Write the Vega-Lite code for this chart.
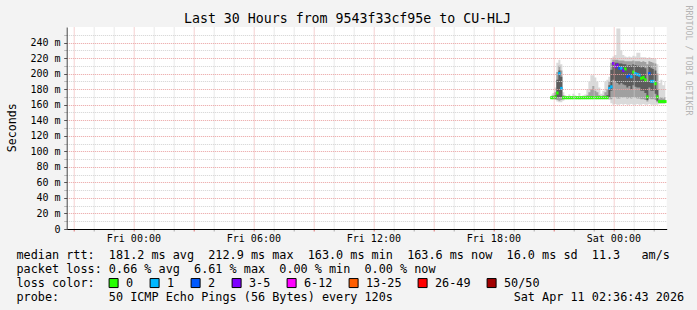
{
  "$schema": "https://vega.github.io/schema/vega-lite/v6.json",
  "width": 600,
  "height": 202,
  "autosize": {"type": "none"},
  "padding": {"left": 66.7, "top": 27, "right": 30.3, "bottom": 81},
  "background": "#f3f3f3",
  "view": {"fill": "white", "stroke": null},
  "title": {
    "text": "Last 30 Hours from 9543f33cf95e to CU-HLJ",
    "font": "DejaVu Sans Mono",
    "fontSize": 13.25,
    "fontWeight": "normal",
    "color": "#000000",
    "anchor": "middle",
    "frame": "group",
    "dx": -19.2,
    "baseline": "alphabetic",
    "offset": -31
  },
  "data": {
    "values": [
      {"t": "2026-04-10T20:54:00Z", "lo": 167, "p10": 168, "p25": 168.5, "med": 169, "p75": 170, "p90": 171, "hi": 173, "loss": "0"},
      {"t": "2026-04-10T21:00:00Z", "lo": 167, "p10": 168, "p25": 168.5, "med": 169, "p75": 170, "p90": 172, "hi": 175, "loss": "0"},
      {"t": "2026-04-10T21:06:00Z", "lo": 166, "p10": 167, "p25": 168, "med": 170, "p75": 172, "p90": 176, "hi": 182, "loss": "0"},
      {"t": "2026-04-10T21:12:00Z", "lo": 164, "p10": 166, "p25": 169, "med": 175, "p75": 192, "p90": 202, "hi": 214, "loss": "0"},
      {"t": "2026-04-10T21:18:00Z", "lo": 163, "p10": 165, "p25": 170, "med": 200, "p75": 204, "p90": 210, "hi": 218, "loss": "1"},
      {"t": "2026-04-10T21:24:00Z", "lo": 163, "p10": 166, "p25": 170, "med": 181, "p75": 196, "p90": 204, "hi": 212, "loss": "1"},
      {"t": "2026-04-10T21:30:00Z", "lo": 165, "p10": 167, "p25": 168, "med": 169, "p75": 170, "p90": 172, "hi": 176, "loss": "0"},
      {"t": "2026-04-10T21:36:00Z", "lo": 167, "p10": 168, "p25": 168.5, "med": 169, "p75": 169.5, "p90": 170, "hi": 172, "loss": "0"},
      {"t": "2026-04-10T21:42:00Z", "lo": 167, "p10": 168, "p25": 168.5, "med": 169, "p75": 169.5, "p90": 170, "hi": 171, "loss": "0"},
      {"t": "2026-04-10T21:48:00Z", "lo": 167, "p10": 168, "p25": 168.5, "med": 169, "p75": 169.5, "p90": 170, "hi": 173, "loss": "0"},
      {"t": "2026-04-10T21:54:00Z", "lo": 167, "p10": 168, "p25": 168.5, "med": 169, "p75": 169.5, "p90": 170, "hi": 171, "loss": "0"},
      {"t": "2026-04-10T22:00:00Z", "lo": 167, "p10": 168, "p25": 168.5, "med": 169, "p75": 169.5, "p90": 170, "hi": 174, "loss": "0"},
      {"t": "2026-04-10T22:06:00Z", "lo": 167, "p10": 168, "p25": 168.5, "med": 169, "p75": 169.5, "p90": 170, "hi": 172, "loss": "0"},
      {"t": "2026-04-10T22:12:00Z", "lo": 167, "p10": 168, "p25": 168.5, "med": 169, "p75": 169.5, "p90": 170, "hi": 171, "loss": "0"},
      {"t": "2026-04-10T22:18:00Z", "lo": 167, "p10": 168, "p25": 168.5, "med": 169, "p75": 169.5, "p90": 170, "hi": 175, "loss": "0"},
      {"t": "2026-04-10T22:24:00Z", "lo": 167, "p10": 168, "p25": 168.5, "med": 169, "p75": 169.5, "p90": 170, "hi": 171, "loss": "0"},
      {"t": "2026-04-10T22:30:00Z", "lo": 167, "p10": 168, "p25": 168.5, "med": 169, "p75": 169.5, "p90": 170, "hi": 172, "loss": "0"},
      {"t": "2026-04-10T22:36:00Z", "lo": 167, "p10": 168, "p25": 168.5, "med": 169, "p75": 169.5, "p90": 170, "hi": 173, "loss": "0"},
      {"t": "2026-04-10T22:42:00Z", "lo": 167, "p10": 168, "p25": 168.5, "med": 169, "p75": 169.5, "p90": 172, "hi": 180, "loss": "0"},
      {"t": "2026-04-10T22:48:00Z", "lo": 167, "p10": 168, "p25": 168.5, "med": 169, "p75": 170, "p90": 176, "hi": 190, "loss": "0"},
      {"t": "2026-04-10T22:54:00Z", "lo": 167, "p10": 168, "p25": 168.5, "med": 169, "p75": 170, "p90": 180, "hi": 198, "loss": "0"},
      {"t": "2026-04-10T23:00:00Z", "lo": 167, "p10": 168, "p25": 168.5, "med": 169, "p75": 171, "p90": 184, "hi": 198, "loss": "0"},
      {"t": "2026-04-10T23:06:00Z", "lo": 167, "p10": 168, "p25": 168.5, "med": 169, "p75": 170, "p90": 178, "hi": 195, "loss": "0"},
      {"t": "2026-04-10T23:12:00Z", "lo": 167, "p10": 168, "p25": 168.5, "med": 169, "p75": 170, "p90": 176, "hi": 190, "loss": "0"},
      {"t": "2026-04-10T23:18:00Z", "lo": 167, "p10": 168, "p25": 168.5, "med": 169, "p75": 169.5, "p90": 172, "hi": 182, "loss": "0"},
      {"t": "2026-04-10T23:24:00Z", "lo": 167, "p10": 168, "p25": 168.5, "med": 169, "p75": 169.5, "p90": 170, "hi": 174, "loss": "0"},
      {"t": "2026-04-10T23:30:00Z", "lo": 167, "p10": 168, "p25": 168.5, "med": 169, "p75": 169.5, "p90": 172, "hi": 178, "loss": "0"},
      {"t": "2026-04-10T23:36:00Z", "lo": 167, "p10": 168, "p25": 168.5, "med": 169, "p75": 170, "p90": 176, "hi": 190, "loss": "0"},
      {"t": "2026-04-10T23:42:00Z", "lo": 167, "p10": 168, "p25": 168.5, "med": 169, "p75": 172, "p90": 180, "hi": 192, "loss": "0"},
      {"t": "2026-04-10T23:48:00Z", "lo": 166, "p10": 168, "p25": 170, "med": 181, "p75": 185, "p90": 190, "hi": 196, "loss": "1"},
      {"t": "2026-04-10T23:54:00Z", "lo": 162, "p10": 167, "p25": 178, "med": 183, "p75": 205, "p90": 214, "hi": 220, "loss": "1"},
      {"t": "2026-04-11T00:00:00Z", "lo": 160, "p10": 170, "p25": 192, "med": 213, "p75": 215, "p90": 218, "hi": 222, "loss": "3-5"},
      {"t": "2026-04-11T00:06:00Z", "lo": 161, "p10": 170, "p25": 190, "med": 209, "p75": 214, "p90": 218, "hi": 224, "loss": "3-5"},
      {"t": "2026-04-11T00:12:00Z", "lo": 160, "p10": 168, "p25": 188, "med": 211, "p75": 214, "p90": 218, "hi": 258, "loss": "3-5"},
      {"t": "2026-04-11T00:18:00Z", "lo": 160, "p10": 168, "p25": 186, "med": 207, "p75": 213, "p90": 217, "hi": 258, "loss": "2"},
      {"t": "2026-04-11T00:24:00Z", "lo": 161, "p10": 170, "p25": 188, "med": 207, "p75": 213, "p90": 217, "hi": 230, "loss": "1"},
      {"t": "2026-04-11T00:30:00Z", "lo": 160, "p10": 169, "p25": 186, "med": 204, "p75": 212, "p90": 217, "hi": 224, "loss": "3-5"},
      {"t": "2026-04-11T00:36:00Z", "lo": 161, "p10": 170, "p25": 185, "med": 206, "p75": 212, "p90": 216, "hi": 222, "loss": "0"},
      {"t": "2026-04-11T00:42:00Z", "lo": 160, "p10": 168, "p25": 182, "med": 196, "p75": 210, "p90": 216, "hi": 221, "loss": "2"},
      {"t": "2026-04-11T00:48:00Z", "lo": 160, "p10": 169, "p25": 184, "med": 198, "p75": 211, "p90": 216, "hi": 222, "loss": "2"},
      {"t": "2026-04-11T00:54:00Z", "lo": 161, "p10": 168, "p25": 180, "med": 196, "p75": 210, "p90": 216, "hi": 221, "loss": "1"},
      {"t": "2026-04-11T01:00:00Z", "lo": 160, "p10": 170, "p25": 185, "med": 202, "p75": 212, "p90": 217, "hi": 223, "loss": "0"},
      {"t": "2026-04-11T01:06:00Z", "lo": 160, "p10": 169, "p25": 183, "med": 200, "p75": 211, "p90": 216, "hi": 222, "loss": "1"},
      {"t": "2026-04-11T01:12:00Z", "lo": 161, "p10": 168, "p25": 182, "med": 199, "p75": 210, "p90": 216, "hi": 227, "loss": "1"},
      {"t": "2026-04-11T01:18:00Z", "lo": 160, "p10": 168, "p25": 182, "med": 198, "p75": 210, "p90": 216, "hi": 227, "loss": "1"},
      {"t": "2026-04-11T01:24:00Z", "lo": 160, "p10": 167, "p25": 178, "med": 194, "p75": 208, "p90": 215, "hi": 221, "loss": "0"},
      {"t": "2026-04-11T01:30:00Z", "lo": 161, "p10": 167, "p25": 178, "med": 195, "p75": 209, "p90": 216, "hi": 221, "loss": "0"},
      {"t": "2026-04-11T01:36:00Z", "lo": 160, "p10": 166, "p25": 175, "med": 192, "p75": 207, "p90": 215, "hi": 221, "loss": "0"},
      {"t": "2026-04-11T01:42:00Z", "lo": 160, "p10": 164, "p25": 166, "med": 170, "p75": 190, "p90": 212, "hi": 220, "loss": "0"},
      {"t": "2026-04-11T01:48:00Z", "lo": 161, "p10": 168, "p25": 182, "med": 200, "p75": 210, "p90": 216, "hi": 221, "loss": "2"},
      {"t": "2026-04-11T01:54:00Z", "lo": 160, "p10": 167, "p25": 178, "med": 190, "p75": 207, "p90": 215, "hi": 220, "loss": "1"},
      {"t": "2026-04-11T02:00:00Z", "lo": 160, "p10": 167, "p25": 178, "med": 190, "p75": 206, "p90": 214, "hi": 220, "loss": "1"},
      {"t": "2026-04-11T02:06:00Z", "lo": 160, "p10": 166, "p25": 174, "med": 187, "p75": 204, "p90": 213, "hi": 219, "loss": "0"},
      {"t": "2026-04-11T02:12:00Z", "lo": 160, "p10": 163, "p25": 165, "med": 170, "p75": 180, "p90": 200, "hi": 212, "loss": "0"},
      {"t": "2026-04-11T02:18:00Z", "lo": 161, "p10": 162.5, "p25": 163, "med": 164, "p75": 165, "p90": 168, "hi": 188, "loss": "0"},
      {"t": "2026-04-11T02:24:00Z", "lo": 161, "p10": 162.5, "p25": 163, "med": 164, "p75": 165, "p90": 170, "hi": 192, "loss": "0"},
      {"t": "2026-04-11T02:30:00Z", "lo": 161, "p10": 162.5, "p25": 163, "med": 164, "p75": 165, "p90": 168, "hi": 185, "loss": "0"},
      {"t": "2026-04-11T02:36:00Z", "lo": 161, "p10": 162.5, "p25": 163, "med": 164, "p75": 165, "p90": 170, "hi": 190, "loss": "0"}
    ]
  },
  "encoding": {
    "x": {
      "field": "t",
      "type": "temporal",
      "scale": {
        "type": "utc",
        "domain": [
          {"year": 2026, "month": 4, "date": 9, "hours": 20, "minutes": 40, "utc": true},
          {"year": 2026, "month": 4, "date": 11, "hours": 2, "minutes": 40, "utc": true}
        ]
      },
      "axis": {
        "zindex": 1,
        "values": [
          {"year": 2026, "month": 4, "date": 9, "hours": 21, "utc": true},
          {"year": 2026, "month": 4, "date": 9, "hours": 22, "utc": true},
          {"year": 2026, "month": 4, "date": 9, "hours": 23, "utc": true},
          {"year": 2026, "month": 4, "date": 10, "hours": 0, "utc": true},
          {"year": 2026, "month": 4, "date": 10, "hours": 1, "utc": true},
          {"year": 2026, "month": 4, "date": 10, "hours": 2, "utc": true},
          {"year": 2026, "month": 4, "date": 10, "hours": 3, "utc": true},
          {"year": 2026, "month": 4, "date": 10, "hours": 4, "utc": true},
          {"year": 2026, "month": 4, "date": 10, "hours": 5, "utc": true},
          {"year": 2026, "month": 4, "date": 10, "hours": 6, "utc": true},
          {"year": 2026, "month": 4, "date": 10, "hours": 7, "utc": true},
          {"year": 2026, "month": 4, "date": 10, "hours": 8, "utc": true},
          {"year": 2026, "month": 4, "date": 10, "hours": 9, "utc": true},
          {"year": 2026, "month": 4, "date": 10, "hours": 10, "utc": true},
          {"year": 2026, "month": 4, "date": 10, "hours": 11, "utc": true},
          {"year": 2026, "month": 4, "date": 10, "hours": 12, "utc": true},
          {"year": 2026, "month": 4, "date": 10, "hours": 13, "utc": true},
          {"year": 2026, "month": 4, "date": 10, "hours": 14, "utc": true},
          {"year": 2026, "month": 4, "date": 10, "hours": 15, "utc": true},
          {"year": 2026, "month": 4, "date": 10, "hours": 16, "utc": true},
          {"year": 2026, "month": 4, "date": 10, "hours": 17, "utc": true},
          {"year": 2026, "month": 4, "date": 10, "hours": 18, "utc": true},
          {"year": 2026, "month": 4, "date": 10, "hours": 19, "utc": true},
          {"year": 2026, "month": 4, "date": 10, "hours": 20, "utc": true},
          {"year": 2026, "month": 4, "date": 10, "hours": 21, "utc": true},
          {"year": 2026, "month": 4, "date": 10, "hours": 22, "utc": true},
          {"year": 2026, "month": 4, "date": 10, "hours": 23, "utc": true},
          {"year": 2026, "month": 4, "date": 11, "hours": 0, "utc": true},
          {"year": 2026, "month": 4, "date": 11, "hours": 1, "utc": true},
          {"year": 2026, "month": 4, "date": 11, "hours": 2, "utc": true}
        ],
        "labelExpr": "utchours(datum.value) % 6 == 0 ? utcFormat(datum.value, '%a %H:%M') : ''",
        "labelOverlap": false,
        "labelFlush": false,
        "labelAngle": 0,
        "labelFont": "DejaVu Sans Mono",
        "labelFontSize": 10,
        "labelColor": "#000000",
        "labelPadding": 2.4,
        "tickSize": 2,
        "tickColor": {"condition": {"test": "utchours(datum.value) % 3 == 0", "value": "#e07070"}, "value": "#aaaaaa"},
        "grid": true,
        "gridColor": {"condition": {"test": "utchours(datum.value) % 3 == 0", "value": "#eaa0a0"}, "value": "#d2d2d2"},
        "gridDash": [1, 1],
        "gridWidth": 1,
        "domainColor": "#000000",
        "domainWidth": 1,
        "title": [
          "median\u00a0rtt:\u00a0\u00a0181.2\u00a0ms\u00a0avg\u00a0\u00a0212.9\u00a0ms\u00a0max\u00a0\u00a0163.0\u00a0ms\u00a0min\u00a0\u00a0163.6\u00a0ms\u00a0now\u00a0\u00a016.0\u00a0ms\u00a0sd\u00a0\u00a011.3\u00a0\u00a0\u00a0am/s",
          "packet\u00a0loss:\u00a00.66\u00a0%\u00a0avg\u00a0\u00a06.61\u00a0%\u00a0max\u00a0\u00a00.00\u00a0%\u00a0min\u00a0\u00a00.00\u00a0%\u00a0now",
          "loss\u00a0color:",
          "probe:\u00a0\u00a0\u00a0\u00a0\u00a0\u00a0\u00a050\u00a0ICMP\u00a0Echo\u00a0Pings\u00a0(56\u00a0Bytes)\u00a0every\u00a0120s\u00a0\u00a0\u00a0\u00a0\u00a0\u00a0\u00a0\u00a0\u00a0\u00a0\u00a0\u00a0\u00a0\u00a0\u00a0\u00a0\u00a0Sat\u00a0Apr\u00a011\u00a002:36:43\u00a02026"
        ],
        "titleX": -50.7,
        "titleY": 29,
        "titleAlign": "left",
        "titleAnchor": "start",
        "titleBaseline": "alphabetic",
        "titleFont": "DejaVu Sans Mono",
        "titleFontSize": 11.8,
        "titleFontWeight": "normal",
        "titleColor": "#000000",
        "titleLineHeight": 14
      }
    }
  },
  "layer": [
    {
      "mark": {"type": "area", "interpolate": "step", "color": "#dadada", "opacity": 1},
      "encoding": {
        "y": {
          "field": "lo",
          "type": "quantitative",
          "scale": {"domain": [0, 260], "nice": false, "zero": true},
          "axis": {
            "zindex": 1,
            "title": "Seconds",
            "values": [0, 10, 20, 30, 40, 50, 60, 70, 80, 90, 100, 110, 120, 130, 140, 150, 160, 170, 180, 190, 200, 210, 220, 230, 240, 250],
            "labelExpr": "datum.value % 20 == 0 ? (datum.value == 0 ? '0' : datum.value + ' m') : ''",
            "labelOverlap": false,
            "labelFont": "DejaVu Sans Mono",
            "labelFontSize": 10,
            "labelColor": "#000000",
            "labelPadding": 3.7,
            "tickSize": 3,
            "tickColor": {"condition": {"test": "datum.value % 20 == 0", "value": "#555555"}, "value": "#bbbbbb"},
            "grid": true,
            "gridColor": {"condition": {"test": "datum.value % 20 == 0", "value": "#eaa0a0"}, "value": "#d2d2d2"},
            "gridDash": [1, 1],
            "gridWidth": 1,
            "domainColor": "#444444",
            "titleX": -51.2,
            "titleY": 100.3,
            "titleAngle": -90,
            "titleAlign": "center",
            "titleBaseline": "alphabetic",
            "titleFont": "DejaVu Sans Mono",
            "titleFontSize": 11.6,
            "titleFontWeight": "normal",
            "titleColor": "#000000"
          }
        },
        "y2": {"field": "hi"}
      }
    },
    {
      "mark": {"type": "area", "interpolate": "step", "color": "#a0a0a0", "opacity": 1},
      "encoding": {
        "y": {"field": "p10", "type": "quantitative", "axis": null},
        "y2": {"field": "p90"}
      }
    },
    {
      "mark": {"type": "area", "interpolate": "step", "color": "#5c5c5c", "opacity": 1},
      "encoding": {
        "y": {"field": "p25", "type": "quantitative", "axis": null},
        "y2": {"field": "p75"}
      }
    },
    {
      "mark": {"type": "tick", "orient": "horizontal", "thickness": 3, "size": 2.4, "opacity": 1},
      "encoding": {
        "y": {
          "field": "med",
          "type": "quantitative",
          "axis": {
            "orient": "right",
            "title": "RRDTOOL / TOBI OETIKER",
            "domain": false,
            "ticks": false,
            "labels": false,
            "grid": false,
            "titleAngle": 90,
            "titleX": 18.3,
            "titleY": -22,
            "titleAlign": "left",
            "titleBaseline": "alphabetic",
            "titleFont": "DejaVu Sans Mono",
            "titleFontSize": 8.3,
            "titleFontWeight": "normal",
            "titleColor": "#b4b4b4"
          }
        },
        "color": {
          "field": "loss",
          "type": "nominal",
          "scale": {
            "domain": ["0", "1", "2", "3-5", "6-12", "13-25", "26-49", "50/50"],
            "range": ["#26ff00", "#00b8ff", "#0059ff", "#7e00ff", "#ff00ff", "#ff5e00", "#ff0000", "#a10000"]
          },
          "legend": {
            "orient": "none",
            "legendX": 41,
            "legendY": 250,
            "direction": "horizontal",
            "columns": 8,
            "title": null,
            "padding": 0,
            "symbolType": "square",
            "symbolSize": 81,
            "symbolStrokeColor": "#000000",
            "symbolStrokeWidth": 1,
            "symbolOpacity": 1,
            "labelFont": "DejaVu Sans Mono",
            "labelFontSize": 11.8,
            "labelColor": "#000000",
            "labelOffset": 6.5,
            "columnPadding": 14,
            "labelLimit": 200
          }
        }
      }
    }
  ],
  "resolve": {"axis": {"y": "independent"}}
}
